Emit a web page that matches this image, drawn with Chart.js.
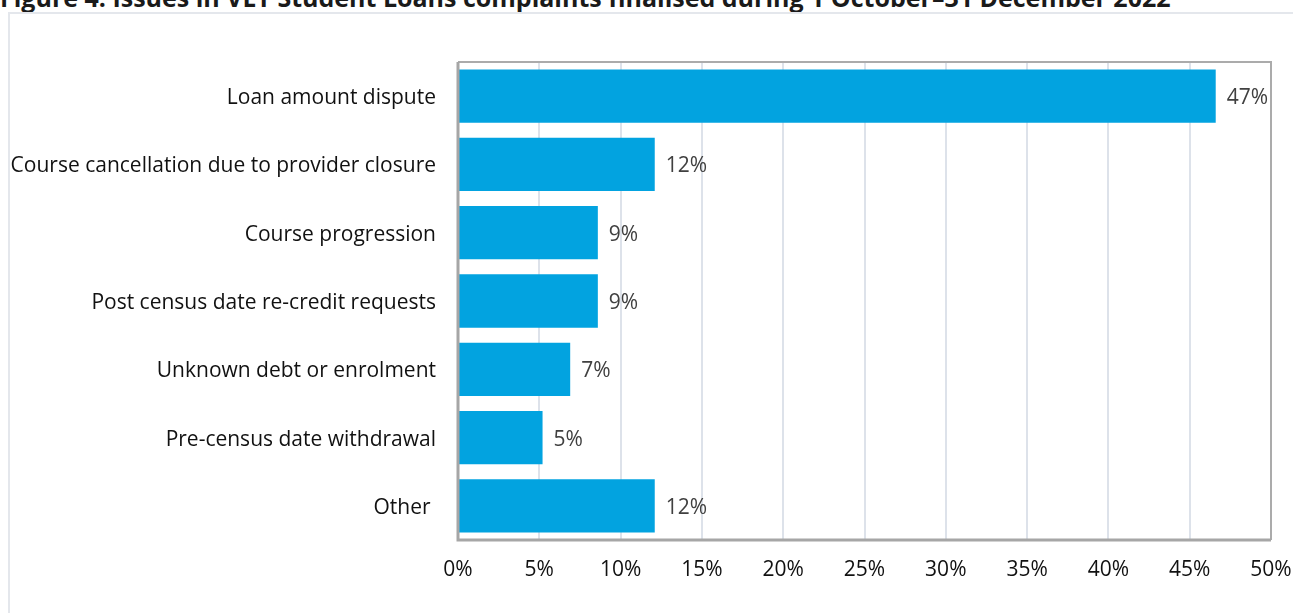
<!DOCTYPE html>
<html><head><meta charset="utf-8">
<script src="https://cdn.jsdelivr.net/npm/chart.js@4/dist/chart.umd.min.js"></script>
<style>
html,body{margin:0;padding:0;background:#fff;overflow:hidden;}
#wrap{position:absolute;left:0;top:0;width:1293px;height:613px;}
#title{position:absolute;left:0;top:-20px;font-family:"Open Sans",sans-serif;font-weight:bold;font-size:25px;color:#1a1a1a;white-space:nowrap;letter-spacing:0px;}
#frame{position:absolute;left:8px;top:12px;width:1300px;height:620px;border:2px solid #E4E7EC;box-sizing:border-box;}
#c{position:absolute;left:0;top:0;}
</style></head>
<body><div id="wrap">
<div id="title">Figure 4: Issues in VET Student Loans complaints finalised during 1 October–31 December 2022</div>
<div id="frame"></div>
<canvas id="c" width="1293" height="613"></canvas>
</div>
<script>
const categories = ["Loan amount dispute","Course cancellation due to provider closure","Course progression","Post census date re-credit requests","Unknown debt or enrolment","Pre-census date withdrawal","Other "];
const values = [46.6, 12.1, 8.6, 8.6, 6.9, 5.2, 12.1];
const valueLabels = ["47%","12%","9%","9%","7%","5%","12%"];
const tickLabels = ["0%","5%","10%","15%","20%","25%","30%","35%","40%","45%","50%"];

const FONT = '"Open Sans", sans-serif';
const FS = 21;

const labelPlugin = {
  id:'vlabels',
  afterDatasetsDraw(chart){
    const ctx = chart.ctx;
    const meta = chart.getDatasetMeta(0);
    ctx.save();
    ctx.font = FS + 'px ' + FONT;
    ctx.fillStyle = '#404040';
    ctx.textAlign = 'left';
    ctx.textBaseline = 'middle';
    meta.data.forEach((bar,i)=>{
      ctx.fillText(valueLabels[i], bar.x + 11, bar.y + 2);
    });
    ctx.restore();
  }
};
const borderPlugin = {
  id:'pborder',
  afterDraw(chart){
    const a = chart.chartArea, ctx = chart.ctx;
    ctx.save();
    ctx.strokeStyle = '#ABABAB';
    ctx.lineWidth = 2;
    ctx.beginPath();
    ctx.moveTo(a.left, a.top); ctx.lineTo(a.right, a.top); ctx.lineTo(a.right, a.bottom);
    ctx.stroke();
    ctx.lineWidth = 3;
    ctx.strokeStyle = '#A6A6A6';
    ctx.beginPath();
    ctx.moveTo(a.left, a.top); ctx.lineTo(a.left, a.bottom); ctx.lineTo(a.right, a.bottom);
    ctx.stroke();
    ctx.restore();
  }
};

new Chart(document.getElementById('c'), {
  type:'bar',
  data:{ labels: categories, datasets:[{ data: values, backgroundColor:'#02A3E0', borderWidth:0, categoryPercentage:1, barPercentage:0.78 }]},
  options:{
    indexAxis:'y', responsive:false, animation:false,
    layout:{ padding:{ left:0, right:22, top:62, bottom:0 } },
    plugins:{ legend:{display:false}, tooltip:{enabled:false} },
    scales:{
      x:{ min:0, max:50,
          ticks:{ stepSize:5, padding:17, color:'#111', font:{family:FONT, size:FS},
                  callback:(v,i)=>tickLabels[i] },
          grid:{ color:'#DDE2EA', lineWidth:2, drawTicks:false },
          border:{ display:false },
          afterFit(s){ s.height = 73; s.paddingRight = 0; s.paddingLeft = 0; } },
      y:{ ticks:{ padding:22, labelOffset:2, color:'#111', font:{family:FONT, size:FS} },
          grid:{ display:false, drawTicks:false },
          border:{ display:false },
          afterFit(s){ s.width = 458; s.paddingTop = 0; s.paddingBottom = 0; } }
    }
  },
  plugins:[labelPlugin, borderPlugin]
});
</script>
</body></html>
